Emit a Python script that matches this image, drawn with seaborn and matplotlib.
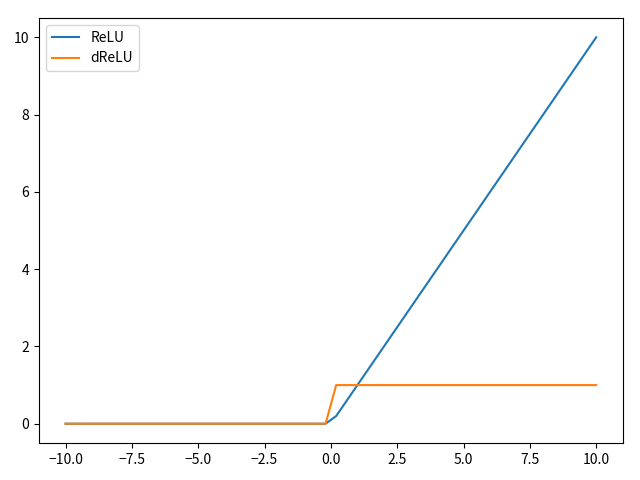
import pandas as pd
import matplotlib
matplotlib.use("Agg")
import matplotlib.pyplot as plt
import seaborn as sns

# vertices of the two curves
x_relu = [-10.0, -0.2, 0.2, 10.0]
y_relu = [0.0, 0.0, 0.2, 10.0]
x_drelu = [-10.0, -0.2, 0.2, 10.0]
y_drelu = [0.0, 0.0, 1.0, 1.0]

plt.rcParams['font.family'] = ['Noto Sans CJK SC', 'DejaVu Sans']

df = pd.concat([
    pd.DataFrame({"x": x_relu, "y": y_relu, "name": "ReLU"}),
    pd.DataFrame({"x": x_drelu, "y": y_drelu, "name": "dReLU"}),
])

fig, ax = plt.subplots(figsize=(6.4, 4.8), dpi=100)
sns.lineplot(data=df, x="x", y="y", hue="name", sort=False,
             palette=["#1f77b4", "#ff7f0e"], ax=ax)
ax.set_xlabel("")
ax.set_ylabel("")
ax.legend(loc="upper left")
ax.set_xticks([-10.0, -7.5, -5.0, -2.5, 0.0, 2.5, 5.0, 7.5, 10.0])
fig.subplots_adjust(left=0.061, right=0.973, top=0.9625, bottom=0.077)
plt.savefig("out.png")
